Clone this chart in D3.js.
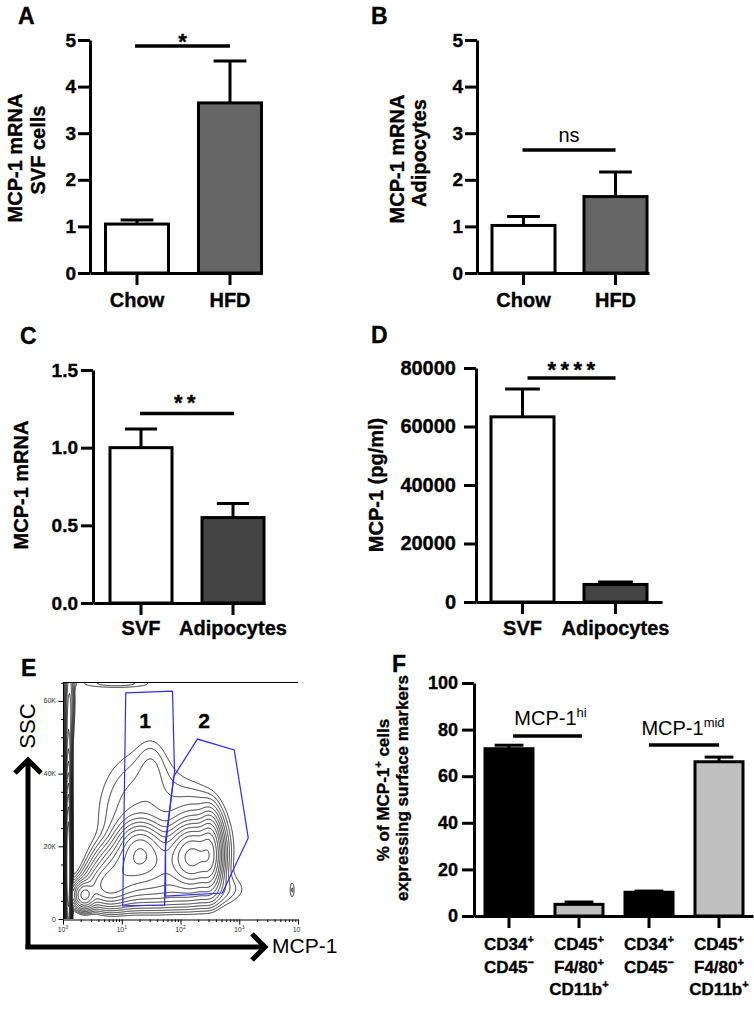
<!DOCTYPE html>
<html><head><meta charset="utf-8">
<script src="https://cdn.jsdelivr.net/npm/d3@7"></script>
<style>body{margin:0;background:#fff}svg{display:block}</style>
</head><body>
<svg id="fig" width="754" height="1010"></svg>
<script>
// ---------------- DATA ----------------
const catsAB = ["Chow", "HFD"];
const meanA = [1.05, 3.65];
const errA = [0.09, 0.90];
const meanB = [1.02, 1.64];
const errB = [0.19, 0.53];
const ticksAB = [0, 1, 2, 3, 4, 5];

const catsCD = ["SVF", "Adipocytes"];
const meanC = [1.00, 0.55];
const errC = [0.12, 0.09];
const ticksC = [0, 0.5, 1.0, 1.5];
const meanD = [63300, 6000];
const errD = [9500, 800];
const ticksD = [0, 20000, 40000, 60000, 80000];

const catsF = ["hi_CD34", "hi_F480", "mid_CD34", "mid_F480"];
const labelsF = [["CD34+", "CD45-"], ["CD45+", "F4/80+", "CD11b+"], ["CD34+", "CD45-"], ["CD45+", "F4/80+", "CD11b+"]];
const meanF = [71.8, 5.0, 10.2, 66.2];
const errF = [1.5, 1.0, 0.5, 2.0];
const ticksF = [0, 20, 40, 60, 80, 100];

// Flow plot (panel E): populations in (log10 MCP-1, SSC in thousands)
const popLogMCP1 = [0.09, 0.10, 0.12, 0.90, 0.36, 0.75, 1.00, 1.30, 1.60, 2.20, 2.50, 2.30, 1.35, 3.90, 1.60, 1.50];
const popSSCk    = [15,   45,   60,   64.8, 6.5,  9,    13,   18.5, 15,   17,   18,   20,   28,   8,    8,    42];
const popSdLog   = [0.025,0.035,0.05, 0.50, 0.10, 0.20, 0.25, 0.20, 0.30, 0.20, 0.10, 0.30, 0.50, 0.035,0.70, 0.15];
const popSdSSCk  = [12,   12,   6,    1.0,  2.0,  3,    4,    4,    4.5,  4.2,  5,    8,    12,   2,    3,    5];
const popWeight  = [4.0,  0.15, 0.08, 0.035,0.6,  0.45, 0.5,  0.9,  0.5,  1.8,  1.0,  0.13, 0.06, 0.03, 0.15, 0.02];
const contourLevels = [0.02, 0.029, 0.042, 0.061, 0.088, 0.128, 0.186, 0.27, 0.39, 0.57, 0.82, 1.19, 1.73, 2.5];
const gate1LogMCP1 = [1.068, 1.864, 1.898, 1.746, 1.729, 1.017];
const gate1SSCk    = [62.2, 62.7, 40.2, 21.7, 3.85, 3.6];
const gate2LogMCP1 = [1.881, 2.288, 2.915, 3.153, 2.712, 1.746, 1.746];
const gate2SSCk    = [39.1, 49.5, 46.5, 22.3, 7.15, 6.3, 19.8];
const eYTicks = [0, 20000, 40000, 60000];
const eYTickLabels = ["0", "20K", "40K", "60K"];
const eXDecades = [1, 10, 100, 1000, 10000];

// ---------------- DRAWING ----------------
const FONT = '"Liberation Sans", Arial, Helvetica, sans-serif';
const svg = d3.select("#fig").attr("font-family", FONT);
svg.append("rect").attr("width", 754).attr("height", 1010).attr("fill", "#fff");

function boldify(sel) { return sel.attr("font-weight", "bold").attr("stroke", "#000").attr("stroke-width", 0.35); }

function makeBand(cats, a0, a1, first, step, bw) {
  const n = cats.length;
  const pi = 1 - bw / step;
  const po = ((a1 - a0) / step - n + pi) / 2;
  const align = (first - a0) / ((a1 - a0) - step * (n - pi));
  return d3.scaleBand().domain(cats).range([a0, a1]).paddingInner(pi).paddingOuter(po).align(align);
}

function barPanel(c) {
  const g = svg.append("g");
  const x = makeBand(c.cats, c.ax0, c.ax1, c.first, c.step, c.bw);
  const y = d3.scaleLinear().domain(c.yDomain).range([c.yBase, c.yTop]);
  const cx = d => x(d) + x.bandwidth() / 2;
  const capW = x.bandwidth() * c.capFrac;
  const eb = g.append("g").attr("stroke", "#000").attr("stroke-width", 3);
  c.cats.forEach((d, i) => {
    const yt = y(c.means[i] + c.errs[i]);
    eb.append("line").attr("x1", cx(d)).attr("x2", cx(d)).attr("y1", y(c.means[i])).attr("y2", yt);
    eb.append("line").attr("x1", cx(d) - capW / 2).attr("x2", cx(d) + capW / 2).attr("y1", yt).attr("y2", yt);
  });
  g.selectAll("rect.bar").data(c.cats).join("rect").attr("class", "bar")
    .attr("x", d => x(d)).attr("width", x.bandwidth())
    .attr("y", (d, i) => y(c.means[i])).attr("height", (d, i) => c.yBase - y(c.means[i]))
    .attr("fill", (d, i) => c.fills[i]).attr("stroke", "#000").attr("stroke-width", 3);
  const gy = g.append("g").attr("transform", `translate(${c.ax0},0)`)
    .call(d3.axisLeft(y).tickValues(c.ticks).tickFormat(c.fmt).tickSize(12).tickPadding(c.tickPad).tickSizeOuter(0));
  gy.select(".domain").attr("stroke-width", 3).attr("stroke", "#000");
  gy.selectAll(".tick line").attr("stroke-width", 3).attr("stroke", "#000");
  boldify(gy.selectAll(".tick text").attr("font-family", FONT).attr("font-size", c.tickFont).attr("fill", "#000"));
  const gx = g.append("g").attr("transform", `translate(0,${c.yBase})`)
    .call(d3.axisBottom(x).tickSize(12).tickSizeOuter(0).tickFormat(""));
  gx.select(".domain").attr("stroke-width", 3).attr("stroke", "#000");
  gx.selectAll(".tick line").attr("stroke-width", 3).attr("stroke", "#000");
  if (c.xLabels) {
    c.cats.forEach((d, i) => {
      boldify(g.append("text").attr("x", cx(d)).attr("y", c.xLabelY).attr("text-anchor", "middle")
        .attr("font-size", c.xFont)).text(c.xLabels[i]);
    });
  }
  return { g, x, y, cx };
}

function sigLine(p, a, b, val, offA, offB, label, o) {
  const yy = p.y(val);
  p.g.append("line").attr("x1", p.cx(a) + offA).attr("x2", p.cx(b) + offB).attr("y1", yy).attr("y2", yy)
    .attr("stroke", "#000").attr("stroke-width", 3.5);
  if (label) {
    const t = p.g.append("text").attr("x", (p.cx(a) + offA + p.cx(b) + offB) / 2 + (o.dx || 0))
      .attr("y", yy + o.dy).attr("text-anchor", "middle")
      .attr("font-size", o.size).attr("letter-spacing", o.ls || 0);
    if (o.bold) boldify(t);
    t.append("tspan").text(label);
    if (o.sup) t.append("tspan").attr("dy", -8).attr("font-size", 13).text(o.sup);
  }
}

function yTitle(lines) {
  lines.forEach(l => {
    const t = boldify(svg.append("text").attr("transform", `translate(${l.x},${l.y}) rotate(-90)`)
      .attr("text-anchor", "middle").attr("font-size", l.size));
    if (l.parts) {
      l.parts.forEach(p => {
        const s = t.append("tspan").text(p.t);
        if (p.sup) s.attr("dy", -7).attr("font-size", 11);
        if (p.after) s.attr("dy", 7);
      });
    } else t.text(l.text);
  });
}

function panelLetter(ch, x, y) {
  boldify(svg.append("text").attr("x", x).attr("y", y).attr("font-size", 23)).text(ch);
}

// Panel A
const pA = barPanel({ cats: catsAB, means: meanA, errs: errA, fills: ["#fff", "#666"],
  ax0: 90, ax1: 262, first: 105.5, step: 93, bw: 63, yDomain: [0, 5], yBase: 273, yTop: 40,
  ticks: ticksAB, fmt: d3.format("d"), tickPad: 2, tickFont: 19, capFrac: 0.52,
  xLabels: catsAB, xLabelY: 307, xFont: 20 });
sigLine(pA, "Chow", "HFD", 4.87, -2, 0, "*", { dy: 3, size: 22, bold: true });
yTitle([{ x: 22, y: 158, size: 20, text: "MCP-1 mRNA" }, { x: 45, y: 150, size: 20, text: "SVF cells" }]);
panelLetter("A", 18, 24);

// Panel B
const pB = barPanel({ cats: catsAB, means: meanB, errs: errB, fills: ["#fff", "#666"],
  ax0: 477, ax1: 649, first: 492, step: 92, bw: 63, yDomain: [0, 5], yBase: 273, yTop: 40,
  ticks: ticksAB, fmt: d3.format("d"), tickPad: 2, tickFont: 19, capFrac: 0.52,
  xLabels: catsAB, xLabelY: 307, xFont: 20 });
sigLine(pB, "Chow", "HFD", 2.64, -1, 0, "ns", { dy: -8, size: 20 });
yTitle([{ x: 404, y: 159, size: 20, text: "MCP-1 mRNA" }, { x: 426, y: 153, size: 20, text: "Adipocytes" }]);
panelLetter("B", 371, 24);

// Panel C
const pC = barPanel({ cats: catsCD, means: meanC, errs: errC, fills: ["#fff", "#444"],
  ax0: 93, ax1: 265, first: 110, step: 92, bw: 62, yDomain: [0, 1.5], yBase: 603, yTop: 370,
  ticks: ticksC, fmt: d3.format(".1f"), tickPad: 3, tickFont: 19, capFrac: 0.52,
  xLabels: catsCD, xLabelY: 635, xFont: 20 });
sigLine(pC, "SVF", "Adipocytes", 1.22, -1, 1, "**", { dy: -3, size: 22, bold: true, ls: 4.5 });
yTitle([{ x: 28, y: 485, size: 20, text: "MCP-1 mRNA" }]);
panelLetter("C", 20, 344);

// Panel D
const pD = barPanel({ cats: catsCD, means: meanD, errs: errD, fills: ["#fff", "#444"],
  ax0: 476, ax1: 662, first: 491, step: 93, bw: 63, yDomain: [0, 80000], yBase: 602, yTop: 368,
  ticks: ticksD, fmt: d3.format("d"), tickPad: 8, tickFont: 20, capFrac: 0.55,
  xLabels: catsCD, xLabelY: 635, xFont: 20 });
sigLine(pD, "SVF", "Adipocytes", 76600, 5, 0, "****", { dy: -1, size: 22, bold: true, ls: 4.5, dx: 2 });
yTitle([{ x: 383, y: 485, size: 20, text: "MCP-1 (pg/ml)" }]);
panelLetter("D", 371, 343);

// Panel F
const pF = barPanel({ cats: catsF, means: meanF, errs: errF, fills: ["#000", "#c0c0c0", "#000", "#c0c0c0"],
  ax0: 474, ax1: 753, first: 485, step: 70, bw: 48, yDomain: [0, 100], yBase: 916, yTop: 683,
  ticks: ticksF, fmt: d3.format("d"), tickPad: 4, tickFont: 18, capFrac: 0.6 });
sigLine(pF, "hi_CD34", "hi_F480", 77.3, 4, 3, "MCP-1", { dy: -11, size: 20, sup: "hi", dx: 3 });
sigLine(pF, "mid_CD34", "mid_F480", 73.4, 0, 0, "MCP-1", { dy: -10, size: 20, sup: "mid", dx: -1 });
catsF.forEach((d, i) => {
  labelsF[i].forEach((ln, k) => {
    const t = boldify(pF.g.append("text").attr("x", pF.cx(d)).attr("y", 950 + k * 22.5).attr("text-anchor", "middle")
      .attr("font-size", 17));
    t.append("tspan").text(ln.slice(0, -1));
    t.append("tspan").attr("dy", -7).attr("font-size", 11).text(ln.slice(-1) === "-" ? "\u2212" : ln.slice(-1));
  });
});
yTitle([
  { x: 389, y: 790, size: 17, parts: [{ t: "% of MCP-1" }, { t: "+", sup: true }, { t: " cells", after: true }] },
  { x: 408, y: 788, size: 17, text: "expressing surface markers" }
]);
panelLetter("F", 392, 672);

// Panel E (flow cytometry contour plot)
panelLetter("E", 21, 676);
const ex = d3.scaleLog().domain([1, 10000]).range([63, 298]);
const ey = d3.scaleLinear().domain([0, 65200]).range([919, 682]);
const gE = svg.append("g");
svg.append("clipPath").attr("id", "eclip").append("rect").attr("x", 64).attr("y", 683).attr("width", 234).attr("height", 236);
const gx0 = 63, gy0 = 682, gw = 236, gh = 238;
const vals = new Float64Array(gw * gh);
for (let j = 0; j < gh; j++) {
  const sk = ey.invert(gy0 + j + 0.5) / 1000;
  for (let i = 0; i < gw; i++) {
    const lx = Math.log10(ex.invert(gx0 + i + 0.5));
    let s = 0;
    for (let k = 0; k < popWeight.length; k++) {
      const dx = (lx - popLogMCP1[k]) / popSdLog[k];
      const dy = (sk - popSSCk[k]) / popSdSSCk[k];
      s += popWeight[k] * Math.exp(-0.5 * (dx * dx + dy * dy));
    }
    vals[j * gw + i] = s;
  }
}
const cont = d3.contours().size([gw, gh]).thresholds(contourLevels)(vals);
const gpath = d3.geoPath(d3.geoIdentity().translate([gx0, gy0]));
gE.append("g").attr("clip-path", "url(#eclip)").selectAll("path").data(cont).join("path")
  .attr("d", gpath).attr("fill", "none").attr("stroke", "#1a1a1a").attr("stroke-width", 0.9);

const gateLine = d3.line().x(d => ex(Math.pow(10, d[0]))).y(d => ey(d[1] * 1000)).curve(d3.curveLinearClosed);
gE.append("path").attr("d", gateLine(gate1LogMCP1.map((v, i) => [v, gate1SSCk[i]])))
  .attr("fill", "none").attr("stroke", "#2b2bff").attr("stroke-width", 1.2);
gE.append("path").attr("d", gateLine(gate2LogMCP1.map((v, i) => [v, gate2SSCk[i]])))
  .attr("fill", "none").attr("stroke", "#2b2bff").attr("stroke-width", 1.2);
boldify(gE.append("text").attr("x", 145).attr("y", 728).attr("text-anchor", "middle").attr("font-size", 21)).text("1");
boldify(gE.append("text").attr("x", 204).attr("y", 728).attr("text-anchor", "middle").attr("font-size", 21)).text("2");

gE.append("line").attr("x1", 63).attr("x2", 298).attr("y1", 682.5).attr("y2", 682.5).attr("stroke", "#000");
const eyAxis = gE.append("g").attr("transform", "translate(63.5,0)")
  .call(d3.axisLeft(ey).tickValues(d3.range(0, 65001, 5000)).tickSize(2.5).tickFormat("").tickSizeOuter(0));
eyAxis.selectAll(".tick").filter(d => eYTicks.includes(d)).select("line").attr("x2", -5);
eyAxis.select(".domain").attr("d", "M0,682V919");
eYTicks.forEach((v, i) => gE.append("text").attr("x", 56).attr("y", ey(v) + 2.5).attr("text-anchor", "end")
  .attr("font-size", 7).attr("fill", "#333").text(eYTickLabels[i]));
const minorX = [];
eXDecades.slice(0, -1).forEach(d => { for (let m = 1; m < 10; m++) minorX.push(d * m); });
minorX.push(10000);
const exAxis = gE.append("g").attr("transform", "translate(0,919.5)")
  .call(d3.axisBottom(ex).tickValues(minorX).tickSize(2.5).tickFormat("").tickSizeOuter(0));
exAxis.selectAll(".tick").filter(d => eXDecades.includes(d)).select("line").attr("y2", 5);
svg.append("clipPath").attr("id", "eclip2").append("rect").attr("x", 0).attr("y", 900).attr("width", 301).attr("height", 60);
eXDecades.forEach((v, i) => {
  const t = gE.append("text").attr("clip-path", "url(#eclip2)").attr("x", ex(v)).attr("y", 932).attr("text-anchor", "middle")
    .attr("font-size", 7).attr("fill", "#333");
  t.append("tspan").text("10");
  t.append("tspan").attr("dy", -3).attr("font-size", 5).text(i);
});

gE.append("path").attr("d", "M28,949V760M15,773L28,760L41,773").attr("fill", "none").attr("stroke", "#000")
  .attr("stroke-width", 5).attr("stroke-linejoin", "miter");
gE.append("path").attr("d", "M25.5,947H265M252,934L265,947L252,960").attr("fill", "none").attr("stroke", "#000")
  .attr("stroke-width", 5).attr("stroke-linejoin", "miter");
gE.append("text").attr("transform", "translate(35,726) rotate(-90)").attr("text-anchor", "middle")
  .attr("font-size", 22).text("SSC");
gE.append("text").attr("x", 272).attr("y", 953).attr("font-size", 21).text("MCP-1");
</script>
</body></html>
